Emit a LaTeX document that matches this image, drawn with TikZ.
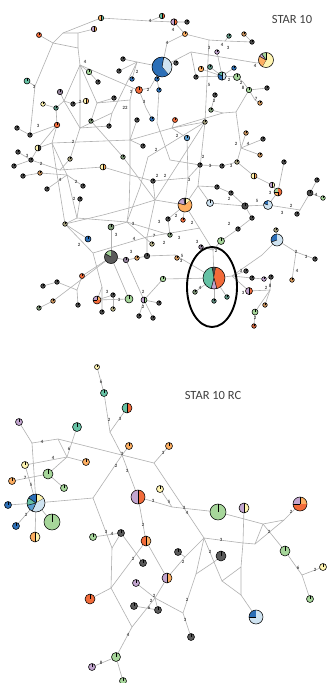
\documentclass[tikz,border=0pt]{standalone}
\usepackage{fontspec}
\setmainfont{Carlito}
\definecolor{cdk}{HTML}{4A4A4A}
\definecolor{cdg}{HTML}{5A5A5A}
\definecolor{ctl}{HTML}{66C2A5}
\definecolor{crd}{HTML}{F26B3A}
\definecolor{cor}{HTML}{FDAE61}
\definecolor{clv}{HTML}{C2A5CF}
\definecolor{cgr}{HTML}{A6D69A}
\definecolor{cyl}{HTML}{FFF5B1}
\definecolor{cbl}{HTML}{2C6FB7}
\definecolor{clb}{HTML}{CFE3F1}
\definecolor{cmb}{HTML}{5B9FD2}
\definecolor{ced}{HTML}{B0B0B0}
\definecolor{ctx}{HTML}{404040}
\pgfdeclarelayer{bgl}
\pgfdeclarelayer{edl}
\pgfsetlayers{bgl,edl,main}
\tikzset{
 hap/.style={circle,draw=black,line width=0.55pt,inner sep=0pt,outer sep=0pt},
 tick/.style={draw=black,line width=0.5pt},
 edge/.style={draw=ced,line width=0.6pt},
 lab/.style={font=\fontsize{4.8}{5}\selectfont\bfseries,text=ctx,inner sep=0pt},
 ttl/.style={font=\fontsize{12.5}{13}\selectfont,text=ctx,inner sep=0pt},
 ring/.style={draw=black,line width=1.9pt},
}
\newcommand\hn[4]{\node[hap,minimum size=#3pt,fill=#4] (#1) at (#2) {};\draw[tick] (#1.center) -- (#1.north);}
\newcommand\hh[5]{\node[hap,minimum size=#3pt,fill=#5,path picture={\fill[#4] (path picture bounding box.north) rectangle (path picture bounding box.south west);}] (#1) at (#2) {};\draw[tick] (#1.north) -- (#1.south);}
\newcommand\pseg[5]{\fill[#5,shift={(#1)}] (0,0) -- (#3:#2pt) arc[start angle=#3,end angle=#4,radius=#2pt] -- cycle;\draw[tick,shift={(#1)}] (0,0) -- (#3:#2pt);}
\newcommand\pn[3]{\node[hap,minimum size=#3pt] (#1) at (#2) {};}
\begin{document}
\begin{tikzpicture}[x=1pt,y=-1pt]
\begin{pgfonlayer}{bgl}
\fill[white] (0,0) rectangle (328,683);
\end{pgfonlayer}
\useasboundingbox (0,0) rectangle (328,683);
\node[ttl] (title1) at (292,19) {STAR 10};
\node[ttl] (title2) at (213,395) {STAR 10 RC};
% ---------------- top network nodes
\hn{t1}{39,35}{5}{crd}
\hh{t2}{101,18}{5.5}{cor}{ctl}
\hh{t3}{94,29}{5.5}{clv}{cor}
\hh{t4}{162,16}{5.5}{ctl}{crd}
\hh{t5}{174,22}{6.5}{clv}{crd}
\hn{t6}{187,22}{4.6}{cdk}
\hn{t7}{185,34}{5}{cor}
\hn{t8}{229,36}{4.6}{ctl!60!cdk}
\hn{t9}{244,34}{4.6}{cor!70!cdk}
\hn{t10}{252,42}{4.6}{cdk}
\hn{t11}{217,52}{4.6}{clv}
\pseg{266,60}{7.5}{-120}{90}{cyl}\pseg{266,60}{7.5}{90}{125}{cgr}\pseg{266,60}{7.5}{125}{150}{clv}\pseg{266,60}{7.5}{150}{240}{cor}\pn{t12}{266,60}{15}
\hn{t13}{176,63}{4.6}{cdk}
\hn{t14}{201,69}{5.5}{cor}
\hn{t15}{210,67}{5}{ctl!60!cdk}
\hn{t16}{234,68}{4.6}{cbl}
\hn{t17}{196,77}{4.6}{cdk}
\pseg{222,76}{4.2}{-90}{90}{clb}\pseg{222,76}{4.2}{90}{150}{ctl}\pseg{222,76}{4.2}{150}{270}{cbl}\pn{t18}{222,76}{8.4}
\hn{t19}{237,77}{7}{cgr}
\hn{t20}{249,90}{5.5}{cgr}
\hn{t21}{267,88}{4.6}{cdk}
\hn{t22}{260,103}{4.6}{cor!80!cdk}
\hn{t23}{215,95}{4.6}{cdk}
\hn{t24}{211,110}{4.6}{cgr!60!cdk}
\hn{t25}{175,120}{5}{crd}
\hn{t26}{205,122}{4.6}{cyl!50!cdk}
\hn{t27}{187,138}{5.5}{cmb}
\hn{t28}{246,133}{4.6}{cor!70!cdk}
\hn{t29}{263,139}{4.6}{cdk}
\hn{t30}{260,155}{4.6}{cor!70!cdk}
\hn{t31}{237,162}{4.6}{cyl!50!cdk}
\hn{t32}{200,165}{4.6}{cdk}
\hn{t33}{222,166}{4.6}{cdk}
\hn{t34}{284,162}{4.6}{cdk}
\hn{t35}{123,59}{4.6}{cdk}
\hn{t36}{119,71}{4.6}{cdk}
\hn{t37}{132,79}{4.6}{cbl}
\pseg{162,67}{10}{-50}{80}{clb}\pseg{162,67}{10}{80}{310}{cbl}\pn{tB}{162,67}{20}
\hn{t38}{157,79}{4.6}{cbl}
\hn{t39}{159,90}{4.6}{cbl}
\hn{t40}{89,72}{5.5}{cgr}
\hn{t41}{98,82}{4.6}{cdk}
\hn{t42}{27,81}{6}{ctl}
\hn{t43}{139,90}{7}{crd}
\hn{t44}{60,92}{5.5}{clv!60!cdk}
\hh{t45}{86,101}{5.5}{cyl}{cor}
\hn{t46}{73,104}{4.6}{cdk}
\hn{t47}{43,104}{4.6}{cyl}
\hn{t48}{56,108}{4.6}{ctl!60!cdk}
\hn{t49}{114,98}{4.6}{cdk}
\hn{t50}{91,121}{4.6}{cgr!50!cdk}
\hn{t51}{109,126}{4.6}{cdk}
\hn{t52}{137,120}{4.6}{cdk}
\hn{t53}{152,119}{4.6}{cbl}
\hn{t54}{17,128}{4.6}{cdk}
\hn{t55}{30,135}{4.6}{cdk}
\hn{t56}{57,125}{5.5}{crd}
\hh{t57}{38,148}{6}{cyl}{cdk}
\hn{t58}{18,152}{4.6}{cdk}
\hn{t59}{31,160}{4.6}{cdk}
\hn{t60}{14,166}{4.6}{cdk}
\hn{t61}{70,159}{4.6}{cyl!50!cdk}
\hh{t62}{103,167}{6}{cyl}{cor}
\hn{t63}{143,146}{4.6}{cdk}
\hn{t64}{123,157}{4.6}{cgr!50!cdk}
\hn{t65}{153,181}{4.6}{cdk}
\hn{t66}{23,176}{4.6}{cdk}
\hn{t67}{40,173}{4.6}{cor!70!cdk}
\hn{t68}{47,189}{4.6}{cdk}
\hn{t69}{83,186}{4.6}{cdk}
\hn{t70}{80,199}{4.6}{cdk}
\hn{t71}{65,224}{4.6}{cyl!50!cdk}
\hn{t72}{111,227}{6}{cgr!60!cdk}
\hn{t73}{88,239}{6}{cbl}
\pseg{111,257}{6.5}{90}{150}{cgr}\pseg{111,257}{6.5}{150}{450}{cdg}\pn{t74}{111,257}{13}
\hn{t75}{126,260}{5.5}{clv!60!cdk}
\hn{t76}{137,258}{4.6}{cor!80!cdk}
\hn{t77}{147,256}{5.5}{cdk}
\hn{t78}{152,244}{4.6}{cyl!60!cdk}
\hn{t79}{170,235}{4.6}{cgr!60!cdk}
\hn{t80}{168,219}{4.6}{cdk}
\hn{t81}{183,220}{4.6}{crd}
\pseg{185,205}{7}{40}{90}{cyl}\pseg{185,205}{7}{90}{100}{cdk}\pseg{185,205}{7}{100}{165}{clv}\pseg{185,205}{7}{165}{400}{cor}\pn{t82}{185,205}{14}
\hn{t83}{217,187}{4.6}{cdk}
\hn{t84}{231,193}{4.6}{cdk}
\hn{t85}{210,203}{7}{clb}
\hn{t86}{245,206}{6.5}{cdk}
\pseg{268,205}{4.5}{90}{160}{cbl}\pseg{268,205}{4.5}{160}{450}{clb}\pn{t87}{268,205}{9}
\hh{t88}{254,176}{6}{cyl}{cor}
\hh{t89}{272,185}{5.5}{clv}{cyl}
\pseg{278,192}{4}{90}{180}{cgr}\pseg{278,192}{4}{180}{270}{cor}\pseg{278,192}{4}{270}{450}{crd}\pn{t90}{278,192}{8}
\hn{t91}{317,180}{4.6}{cdk}
\hn{t92}{310,193}{6}{cdk}
\hn{t93}{323,198}{4.6}{cgr}
\hn{t94}{297,214}{4.6}{cdk}
\hn{t95}{252,218}{4.6}{cdk}
\hn{t96}{238,229}{4.6}{cdk}
\hn{t97}{221,241}{7}{cgr}
\hn{t98}{201,247}{4.6}{clv!60!cdk}
\hn{t99}{177,258}{4.6}{cor!80!cdk}
\pseg{277,240}{6}{90}{200}{cbl}\pseg{277,240}{6}{200}{450}{clb}\pn{t100}{277,240}{12}
\hn{t101}{276,230}{4.6}{cyl!50!cdk}
\hn{t102}{315,259}{4.6}{cdk}
\hn{t103}{292,280}{4.6}{cor!80!cdk}
\pseg{214,278}{11}{80}{100}{cdk}\pseg{214,278}{11}{100}{255}{ctl}\pseg{214,278}{11}{255}{285}{clv}\pseg{214,278}{11}{285}{440}{crd}\pn{t104}{214,278}{22}
\hn{t105}{195,292}{4.6}{cgr!50!cdk}
\hn{t106}{214,301}{4.6}{ctl!50!cdk}
\hn{t107}{227,297}{4.6}{ctl!60!cdk}
\hn{t108}{246,271}{4.6}{cdk}
\hn{t109}{252,278}{4.6}{cdk}
\hn{t110}{264,279}{4.6}{clv}
\hn{t111}{271,277}{4.6}{cdk}
\hh{t112}{249,291}{7}{clv}{crd}
\hn{t113}{265,305}{4.6}{cor!70!cdk}
\hn{t114}{255,312}{6}{cgr}
\hn{t115}{254,326}{4.6}{crd!80!cdk}
\hn{t116}{163,279}{5.5}{cgr}
\hn{t117}{82,276}{5}{crd}
\hn{t118}{43,286}{4.6}{cdk}
\hn{t119}{57,282}{4.6}{cdk}
\hn{t120}{53,301}{4.6}{cor!70!cdk}
\hn{t121}{39,308}{4.6}{cgr!50!cdk}
\hn{t122}{78,305}{4.6}{cdk}
\pseg{97,300}{4}{0}{90}{cor}\pseg{97,300}{4}{90}{180}{clv}\pseg{97,300}{4}{180}{360}{crd}\pn{t123}{97,300}{8}
\hn{t124}{113,295}{4.6}{cdk}
\hn{t125}{129,299}{8}{cgr}
\hn{t126}{102,312}{4.6}{cdk}
\hn{t127}{113,309}{4.6}{cyl!60!cdk}
\hh{t128}{144,300}{6}{clv}{cgr}
\hn{t129}{159,303}{4.6}{cdk}
\hn{t130}{139,316}{4.6}{cdk}
\hn{t131}{153,318}{4.6}{cdk}
% top junctions
\coordinate (u1) at (53,43);\coordinate (u2) at (63,33);\coordinate (u3) at (78,33);\coordinate (u4) at (78,48);
\coordinate (u5) at (80,65);\coordinate (u6) at (35,86);\coordinate (u7) at (150,21);\coordinate (u8) at (167,43);
\coordinate (u9) at (209,40);\coordinate (u10) at (225,41);\coordinate (u11) at (191,52);\coordinate (u12) at (257,63);
\coordinate (u13) at (243,82);\coordinate (u14) at (255,100);\coordinate (u15) at (223,113);\coordinate (u16) at (236,112);
\coordinate (u17) at (137,62);\coordinate (u18) at (133,88);\coordinate (u19) at (150,88);\coordinate (u20) at (146,108);
\coordinate (u21) at (112,113);\coordinate (u22) at (64,101);\coordinate (u23) at (97,103);\coordinate (u24) at (172,128);
\coordinate (u25) at (130,140);\coordinate (u26) at (52,143);\coordinate (u27) at (60,170);\coordinate (u28) at (130,175);
\coordinate (u29) at (188,178);\coordinate (u30) at (130,100);\coordinate (u31) at (127,222);\coordinate (u32) at (80,128);
\coordinate (u33) at (155,200);\coordinate (u34) at (103,215);\coordinate (u36) at (67,175);\coordinate (u37) at (77,218);
\coordinate (u38) at (241,148);\coordinate (u40) at (198,186);\coordinate (u41) at (300,210);\coordinate (u42) at (296,252);
\coordinate (u43) at (232,276);\coordinate (u44) at (270,290);\coordinate (u45) at (213,250);\coordinate (u47) at (175,255);
\coordinate (u48) at (93,253);\coordinate (u51) at (262,255);\coordinate (u53) at (129,208);
\coordinate (u60) at (200,228);\coordinate (u61) at (77,290);\coordinate (u62) at (157,123);\coordinate (u63) at (170,160);
\coordinate (u64) at (148,157);\coordinate (u65) at (140,187);\coordinate (u66) at (147,237);\coordinate (u67) at (102,287);
% ---------------- bottom network nodes
\hn{b1}{97,367}{5}{cyl}
\hn{b2}{104,393}{7}{ctl}
\hh{b3}{127,408}{10}{ctl}{crd}
\hn{b4}{19,422}{7}{clv}
\hn{b5}{77,427}{9}{ctl}
\hn{b6}{25,465}{7}{cyl}
\hn{b7}{86,462}{7}{cor}
\hn{b8}{48,474}{10}{cgr}
\hn{b9}{12,481}{7}{cor}
\hn{b10}{64,488}{7}{cgr}
\pseg{36,503}{9}{30}{90}{cyl}\pseg{36,503}{9}{90}{145}{cbl}\pseg{36,503}{9}{145}{195}{ctl}\pseg{36,503}{9}{195}{245}{cmb}\pseg{36,503}{9}{245}{390}{clb}\pn{b11}{36,503}{18}
\hn{b12}{8,505}{7}{cbl}
\hn{b13}{52,522}{16}{cgr}
\hn{b14}{16,526}{7}{cbl}
\hh{b15}{35,537}{10}{cor}{cyl}
\hn{b16}{129,446}{7}{cor}
\hn{b17}{169,446}{7}{cor}
\hh{b18}{138,497}{14}{clv}{crd}
\hn{b19}{160,489}{7}{cyl}
\hn{b20}{218,512}{16}{cgr}
\hh{b21}{244,508}{10}{clv}{cyl}
\pseg{300,504}{7}{0}{90}{cor}\pseg{300,504}{7}{90}{180}{clv}\pseg{300,504}{7}{180}{360}{crd}\pn{b22}{300,504}{14}
\hh{b23}{146,541}{10}{crd}{cor}
\hn{b24}{121,533}{7}{cdg}
\hn{b25}{93,537}{7}{cgr}
\hn{b26}{143,563}{7}{cdg}
\hn{b27}{178,552}{7}{cdg}
\hn{b28}{221,556}{10}{cdg}
\hh{b29}{167,578}{10}{clv}{cor}
\hn{b30}{136,583}{7}{clv}
\hn{b31}{90,599}{10}{crd}
\hn{b32}{134,606}{7}{cdg}
\hn{b33}{158,610}{7}{cdg}
\pseg{256,617}{7}{90}{180}{cbl}\pseg{256,617}{7}{180}{450}{clb}\pn{b34}{256,617}{14}
\hn{b35}{285,551}{10}{cgr}
\hn{b36}{323,567}{7}{cyl}
\hn{b37}{310,599}{7}{cgr}
\hn{b38}{191,637}{7}{cdg}
\hn{b39}{116,657}{9}{cgr}
\hn{b40}{92,667}{7}{clv}
\hn{b41}{123,681}{7}{cgr}
% bottom junctions
\coordinate (k1) at (110,432);\coordinate (k2) at (122,455);\coordinate (k3) at (154,463);\coordinate (k4) at (32,443);
\coordinate (k5) at (58,439);\coordinate (k6) at (67,457);\coordinate (k7) at (93,498);\coordinate (k9) at (204,538);
\coordinate (k10) at (243,543);\coordinate (k11) at (255,544);\coordinate (k12) at (263,524);\coordinate (k13) at (284,520);
\coordinate (k14) at (302,575);\coordinate (k15) at (222,581);\coordinate (k16) at (241,567);\coordinate (k17) at (241,595);
\coordinate (k18) at (196,574);\coordinate (k19) at (214,562);\coordinate (k20) at (183,613);\coordinate (k21) at (112,548);
\coordinate (k22) at (111,588);\coordinate (k23) at (132,627);\coordinate (k25) at (172,507);\coordinate (k26) at (185,557);
\coordinate (k28) at (155,598);
% ring
\draw[ring] (212,287) ellipse [x radius=25pt, y radius=40pt];
% ---------------- edges
\begin{pgfonlayer}{edl}
\draw[edge] (t1)--(u1)--(u2)--(t2)--(u7)--(t4);
\draw[edge] (u2)--(u3)--(t3);
\draw[edge] (u3)--(u4)--(u1);
\draw[edge] (u4)--(u5)--(t40)--(t41);
\draw[edge] (u1)--(u6)--(t42);
\draw[edge] (u6)--(t55);\draw[edge] (t54)--(t55)--(t56);
\draw[edge] (t56)--(t57)--(t59);\draw[edge] (t58)--(t59);\draw[edge] (t60)--(t59);
\draw[edge] (u7)--(t5)--(t6);\draw[edge] (t5)--(t7);
\draw[edge] (t7)--(u8)--(tB);
\draw[edge] (t7)--(u9)--(u10)--(t10);\draw[edge] (t8)--(u10);\draw[edge] (t9)--(t10);
\draw[edge] (u9)--(t26);
\draw[edge] (tB)--(u11)--(u12)--(t12);\draw[edge] (u11)--(t17)--(t18);
\draw[edge] (t14)--(t18);\draw[edge] (t15)--(t18);\draw[edge] (t16)--(t18);\draw[edge] (t11)--(t18);
\draw[edge] (t18)--(t19)--(u13)--(t20)--(t21);\draw[edge] (t20)--(u14)--(t22);
\draw[edge] (t23)--(t24)--(u15)--(u16)--(t20);
\draw[edge] (u16)--(u38)--(t31)--(t88);
\draw[edge] (t28)--(u38);\draw[edge] (t29)--(u38);\draw[edge] (t30)--(u38);
\draw[edge] (t35)--(u17)--(tB);\draw[edge] (t36)--(u17);\draw[edge] (t37)--(u17);
\draw[edge] (u5)--(u18)--(t43)--(u19)--(tB);
\draw[edge] (t43)--(u20)--(t53);
\draw[edge] (u17)--(u21)--(t51);
\draw[edge] (tB)--(t38)--(t39);\draw[edge] (tB)--(t13);
\draw[edge] (u5)--(u22)--(t46)--(t45);\draw[edge] (u22)--(t48)--(t47);\draw[edge] (t44)--(u22);
\draw[edge] (u5)--(u23)--(t49);\draw[edge] (u23)--(t50);
\draw[edge] (u15)--(u24)--(t25);\draw[edge] (u24)--(t27);
\draw[edge] (u24)--(u25)--(u26)--(t57);
\draw[edge] (t59)--(u27)--(t62)--(u28)--(t65)--(u29);
\draw[edge] (u30)--(u25)--(u28)--(u53)--(u31);
\draw[edge] (u23)--(u30)--(u18);
\draw[edge] (t50)--(t64)--(u33)--(t82);
\draw[edge] (u22)--(u32)--(u21);\draw[edge] (u32)--(t61)--(u27);
\draw[edge] (u5)--(u32)--(t51);\draw[edge] (t56)--(t48);
\draw[edge] (t56)--(u26)--(u36);\draw[edge] (t66)--(t67)--(u36);\draw[edge] (t68)--(u36);\draw[edge] (t69)--(u36);
\draw[edge] (u36)--(u37)--(t71);\draw[edge] (t70)--(u37);
\draw[edge] (u26)--(t71);
\draw[edge] (u37)--(u31);\draw[edge] (t71)--(u34)--(u53)--(u33);
\draw[edge] (t65)--(u33);
\draw[edge] (t32)--(t33)--(t31);
\draw[edge] (t27)--(u29)--(t82);\draw[edge] (u29)--(t32);
\draw[edge] (t82)--(t80);\draw[edge] (t82)--(t81);\draw[edge] (t82)--(u40)--(t83)--(t84)--(t86);
\draw[edge] (u40)--(t85)--(t86);\draw[edge] (t26)--(u40);
\draw[edge] (t86)--(t87)--(t90)--(t89)--(t88);\draw[edge] (t90)--(t34);
\draw[edge] (t87)--(u41)--(t92)--(t91);\draw[edge] (t92)--(t93);\draw[edge] (u41)--(t94);
\draw[edge] (t86)--(t95)--(t96)--(t97);
\draw[edge] (t100)--(t101);\draw[edge] (t100)--(u42)--(t102);\draw[edge] (u42)--(t103);
\draw[edge] (t104)--(t105);\draw[edge] (t104)--(t106);\draw[edge] (t104)--(t107);
\draw[edge] (t104)--(u43)--(t109)--(t110)--(t111);\draw[edge] (t108)--(u43);
\draw[edge] (t112)--(u43);\draw[edge] (t112)--(u44)--(t111);\draw[edge] (u44)--(t113);\draw[edge] (u44)--(t114)--(t115);
\draw[edge] (t82)--(u45)--(t104);\draw[edge] (t98)--(u45);\draw[edge] (t97)--(u45);
\draw[edge] (u43)--(u51)--(t100);
\draw[edge] (t72)--(t74);\draw[edge] (t74)--(t75)--(t76)--(t77)--(u47)--(t99);\draw[edge] (u47)--(t104);
\draw[edge] (t74)--(t117);\draw[edge] (t71)--(u48)--(u67)--(t126);\draw[edge] (t73)--(t71);
\draw[edge] (u48)--(u66)--(u60);
\draw[edge] (t72)--(u31)--(t79);\draw[edge] (u31)--(t78);
\draw[edge] (t75)--(t128);\draw[edge] (t128)--(t129);\draw[edge] (t128)--(t130);\draw[edge] (t128)--(t131);
\draw[edge] (t128)--(t116)--(t104);
\draw[edge] (t125)--(t123)--(t124);\draw[edge] (t123)--(u67);\draw[edge] (t127)--(t124);
\draw[edge] (t118)--(t119)--(u61)--(t122);\draw[edge] (u61)--(t117);\draw[edge] (t121)--(t120)--(t74);
\draw[edge] (t74)--(t125);\draw[edge] (t80)--(t79);
\draw[edge] (t26)--(u33);\draw[edge] (t63)--(u25);\draw[edge] (t52)--(u25);\draw[edge] (t26)--(u24);
\draw[edge] (t39)--(u62)--(u63)--(t32);
\draw[edge] (t26)--(u64)--(u65)--(u31);
\draw[edge] (u33)--(u66)--(t77);
% bottom edges
\draw[edge] (b1)--(b2)--(k1)--(b3);\draw[edge] (k1)--(k2);\draw[edge] (b16)--(k2);
\draw[edge] (k5)--(k2)--(k3)--(b17);
\draw[edge] (k4)--(b4);\draw[edge] (k4)--(k5)--(k6);\draw[edge] (k4)--(b11);
\draw[edge] (b6)--(k6)--(b5);\draw[edge] (k6)--(b7);\draw[edge] (b6)--(b11);
\draw[edge] (b9)--(b8)--(b10);\draw[edge] (b8)--(k6);
\draw[edge] (b11)--(b12);\draw[edge] (b11)--(b14);\draw[edge] (b11)--(b13);\draw[edge] (b11)--(b15);
\draw[edge] (b11)--(k7)--(k2)--(b18);
\draw[edge] (b18)--(k25)--(b20);\draw[edge] (b19)--(k25);
\draw[edge] (k3)--(k9);\draw[edge] (k7)--(k21);
\draw[edge] (b20)--(k12)--(k13)--(b22);\draw[edge] (k12)--(b35);
\draw[edge] (k12)--(k11);\draw[edge] (k13)--(k11);\draw[edge] (k11)--(k10)--(k9);
\draw[edge] (b21)--(k10)--(k16)--(k17);\draw[edge] (k16)--(k15)--(k17)--(b34);
\draw[edge] (b35)--(k14)--(b36);\draw[edge] (k14)--(b37);
\draw[edge] (k9)--(k18);\draw[edge] (k9)--(k19)--(b28);\draw[edge] (k19)--(k15);\draw[edge] (k18)--(k19);
\draw[edge] (k18)--(k20)--(b38);\draw[edge] (k20)--(k28);
\draw[edge] (b29)--(k26)--(k9);\draw[edge] (b27)--(k26);
\draw[edge] (b18)--(b23)--(b29);\draw[edge] (k22)--(b23);
\draw[edge] (k21)--(k22);\draw[edge] (k21)--(b24);\draw[edge] (b25)--(b24)--(b26);
\draw[edge] (k22)--(b31);\draw[edge] (k22)--(k23)--(k28)--(b29);\draw[edge] (b30)--(k28);
\draw[edge] (b32)--(b33)--(k28);
\draw[edge] (k23)--(b39)--(b40);\draw[edge] (b39)--(b41);
\end{pgfonlayer}
% ---------------- labels
\foreach \x/\y/\t in {150/21/4,173/30/4,167/43/4,222/45/4,228/48/3,209/48/3,255/66/4,229/80/2,241/83/2,243/88/8,256/99/7,209/85/5,214/101/2,85/62/4,34/87/3,137/72/2,131/92/3,148/90/2,144/102/3,80/102/2,125/108/22,38/126/3,73/142/2,27/156/3,41/164/2,156/150/2,177/136/2,236/144/2,248/144/4,203/157/2,210/166/3,231/166/3,157/176/2,165/176/2,189/180/3,60/180/4,76/182/2,74/199/2,133/224/3,159/222/3,116/235/3,134/239/4,154/236/7,79/245/2,131/252/3,164/243/2,176/216/2,192/223/2,179/238/3,197/242/3,229/199/2,257/201/5,270/193/3,291/206/2,282/213/3,316/195/4,229/224/2,216/251/2,182/256/5,181/261/3,296/252/2,306/257/3,297/271/4,200/288/4,241/271/3,243/293/3,266/288/2,270/286/8,255/318/2,107/292/3,119/300/3,143/292/2,143/307/2}
 {\node[lab] at (\x,\y) {\t};}
\foreach \x/\y/\t in {101/382/6,109/420/2,120/419/3,122/454/3,163/453/3,42/442/4,53/458/4,69/449/6,31/485/5,25/478/7,26/515/2,116/466/2,127/471/3,153/501/3,169/502/5,184/508/3,187/513/4,143/525/2,106/532/3,112/534/4,133/559/2,183/562/2,210/552/2,221/540/3,269/532/2,291/512/2,298/568/6,315/570/2,187/600/2,185/620/3,154/596/2,151/601/2,149/608/6,128/635/4,101/663/8}
 {\node[lab] at (\x,\y) {\t};}
\end{tikzpicture}
\end{document}
